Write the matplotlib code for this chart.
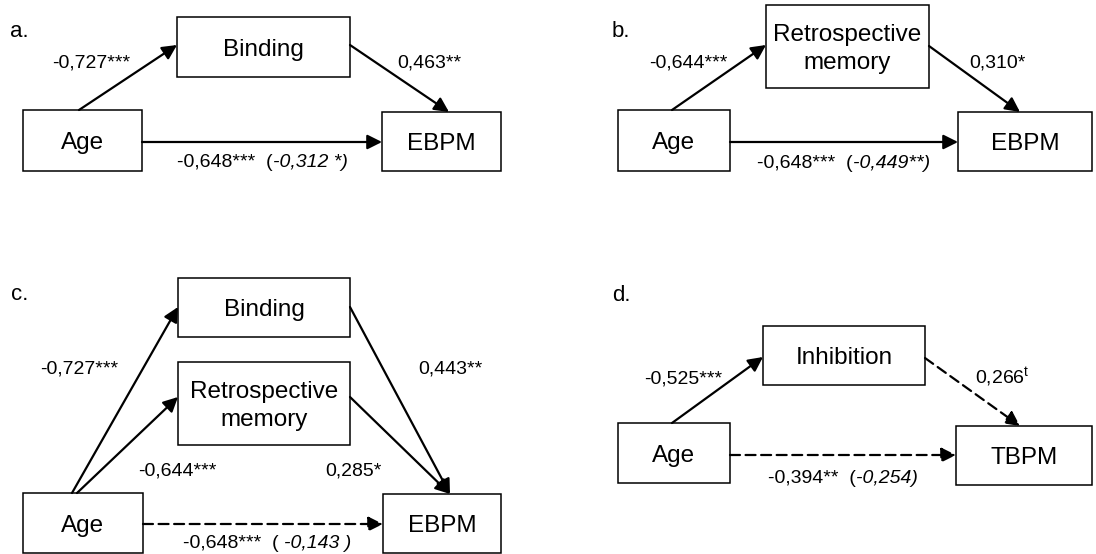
import matplotlib
matplotlib.use('Agg')
import matplotlib.pyplot as plt
from matplotlib.patches import Rectangle, FancyArrowPatch

plt.rcParams['font.family'] = ['Liberation Sans', 'DejaVu Sans']
plt.rcParams['mathtext.fontset'] = 'custom'
plt.rcParams['mathtext.rm'] = 'Liberation Sans'
plt.rcParams['mathtext.it'] = 'Liberation Sans:italic'

# textos de cada painel
paineis = ['a.', 'b.', 'c.', 'd.']
nos_a = ['Age', 'Binding', 'EBPM']
nos_b = ['Age', 'Retrospective\nmemory', 'EBPM']
nos_c = ['Age', 'Binding', 'Retrospective\nmemory', 'EBPM']
nos_d = ['Age', 'Inhibition', 'TBPM']

# coeficientes dos caminhos (a, b)
coef_a = ['-0,727***', '0,463**']
coef_b = ['-0,644***', '0,310*']
coef_c = ['-0,727***', '0,443**', '-0,644***', '0,285*']
coef_d = ['-0,525***', '0,266$^{\\mathrm{t}}$']

# efeito total e (efeito direto em italico)
total_a = ['-0,648***  (', '-0,312 *)']
total_b = ['-0,648***  (', '-0,449**)']
total_c = ['-0,648***  ( ', '-0,143 )']
total_d = ['-0,394**  (', '-0,254)']

FS_CAIXA = 17.5
FS_COEF = 14
PX = 100 / 72.0

fig = plt.figure(figsize=(10.96, 5.54), dpi=100)
ax = fig.add_axes([0, 0, 1, 1])
ax.set_xlim(0, 1096)
ax.set_ylim(554, 0)
ax.axis('off')


def caixa(x0, y0, x1, y1, texto):
    ax.add_patch(Rectangle((x0, y0), x1 - x0, y1 - y0, facecolor='white',
                           edgecolor='black', lw=1.1, zorder=2))
    linhas = texto.split('\n')
    cy = (y0 + y1) / 2
    cap = 0.716 * FS_CAIXA * PX
    passo = 28
    topo = cy - passo * (len(linhas) - 1) / 2
    for i, l in enumerate(linhas):
        ax.text((x0 + x1) / 2, topo + i * passo + cap / 2, l, ha='center',
                va='baseline', fontsize=FS_CAIXA, zorder=3)


def seta(p0, p1, tracejada=False):
    estilo = (0, (4.5, 2.5)) if tracejada else '-'
    ax.add_patch(FancyArrowPatch(p0, p1, arrowstyle='-|>', mutation_scale=22,
                                 lw=1.6, color='black', shrinkA=0, shrinkB=0,
                                 linestyle=estilo, zorder=4))


def rotulo(x, y, txt):
    ax.text(x, y, txt, ha='center', va='baseline', fontsize=FS_COEF)


def total(x, y, partes):
    ax.text(x, y, partes[0], ha='right', va='baseline', fontsize=FS_COEF)
    ax.text(x, y, partes[1], ha='left', va='baseline', fontsize=FS_COEF,
            style='italic')


# rótulos dos painéis
for txt, (x, y) in zip(paineis, [(10, 37), (612, 37), (11, 300), (612, 301)]):
    ax.text(x, y, txt, ha='left', va='baseline', fontsize=16)

# painel a
caixa(23, 110, 142, 171, nos_a[0])
caixa(177, 17, 350, 77, nos_a[1])
caixa(382, 112, 501, 171, nos_a[2])
seta((79, 110), (177, 45))
seta((350, 45), (449, 112))
seta((142, 142), (382, 142))
rotulo(91, 68, coef_a[0])
rotulo(429, 68, coef_a[1])
total(273, 167, total_a)

# painel b
caixa(618, 110, 730, 171, nos_b[0])
caixa(766, 5, 929, 88, nos_b[1])
caixa(958, 112, 1092, 171, nos_b[2])
seta((672, 110), (766, 45))
seta((929, 46), (1020, 112))
seta((730, 142), (958, 142))
rotulo(688, 67, coef_b[0])
rotulo(997, 67, coef_b[1])
total(853, 168, total_b)

# painel c
caixa(23, 493, 143, 553, nos_c[0])
caixa(178, 278, 350, 337, nos_c[1])
caixa(178, 362, 350, 445, nos_c[2])
caixa(383, 494, 501, 553, nos_c[3])
seta((72, 493), (178, 307))
seta((77, 493), (178, 397))
seta((350, 307), (450, 494))
seta((350, 397), (450, 494))
seta((143, 524), (383, 524), tracejada=True)
rotulo(79, 373, coef_c[0])
rotulo(450, 373, coef_c[1])
rotulo(177, 475, coef_c[2])
rotulo(353, 475, coef_c[3])
total(284, 548, total_c)

# painel d
caixa(618, 423, 730, 483, nos_d[0])
caixa(763, 326, 925, 385, nos_d[1])
caixa(956, 426, 1092, 485, nos_d[2])
seta((672, 423), (763, 357))
seta((925, 358), (1020, 426), tracejada=True)
seta((730, 455), (956, 455), tracejada=True)
rotulo(683, 383, coef_d[0])
rotulo(1002, 383, coef_d[1])
total(856, 483, total_d)

fig.savefig('out.png', dpi=100, facecolor='white')
